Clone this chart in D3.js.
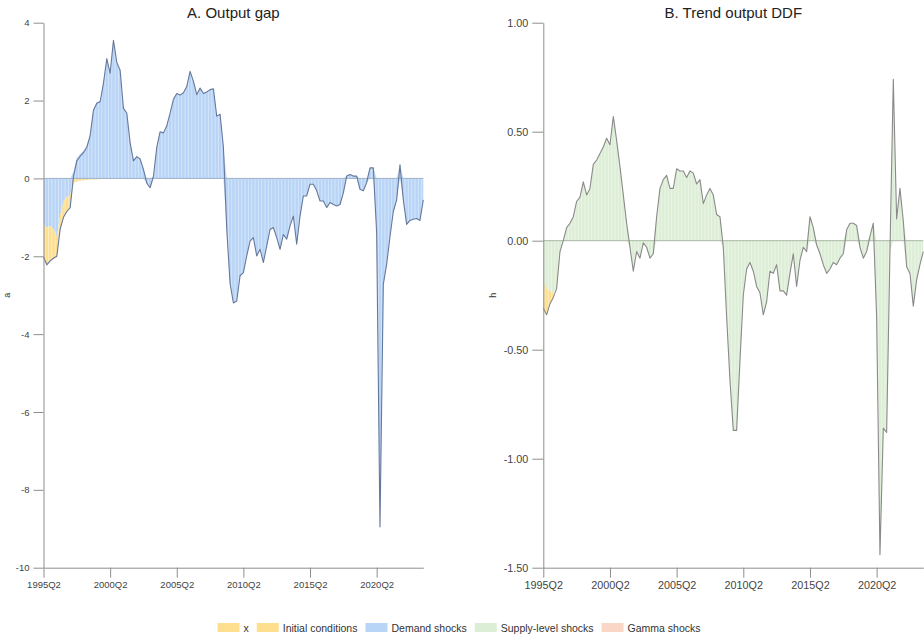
<!DOCTYPE html>
<html>
<head>
<meta charset="utf-8">
<script src="https://cdn.jsdelivr.net/npm/d3@7"></script>
<style>
  body { margin: 0; background: #fff; }
  svg { display: block; }
  text { font-family: "Liberation Sans", Arial, sans-serif; }
</style>
</head>
<body>
<svg id="chart" width="924" height="637"></svg>
<script>
// Quarterly index starts in 1995Q2
const startYear = 1995, startQuarter = 2;
const tickLabels = ["1995Q2", "2000Q2", "2005Q2", "2010Q2", "2015Q2", "2020Q2"];
const gapTicks = [-10, -8, -6, -4, -2, 0, 2, 4];
const ddfTicks = [-1.5, -1.0, -0.5, 0, 0.5, 1.0];

// Panel A: output gap decomposition (contributions)
const gapDemand = [
  -1.17,-1.27,-1.22,-1.30,-1.50,-0.95,-0.60,-0.47,-0.45,0.17,
  0.53,0.63,0.71,0.84,1.13,1.78,1.96,1.99,2.46,3.09,
  2.71,3.55,2.98,2.78,1.80,1.68,0.92,0.45,0.56,0.50,
  0.23,-0.12,-0.24,0.05,0.80,1.20,1.17,1.35,1.68,2.03,
  2.18,2.14,2.20,2.36,2.75,2.50,2.15,2.32,2.18,2.22,
  2.28,2.30,1.60,1.65,0.80,-1.30,-2.70,-3.20,-3.15,-2.50,
  -2.42,-1.99,-1.61,-1.52,-1.99,-1.82,-2.16,-1.74,-1.31,-1.26,
  -1.52,-1.82,-1.44,-1.56,-1.22,-0.97,-1.69,-0.97,-0.45,-0.45,
  -0.15,-0.15,-0.32,-0.58,-0.58,-0.75,-0.62,-0.67,-0.71,-0.67,
  -0.37,0.06,0.10,0.06,0.06,-0.28,-0.32,-0.11,0.27,0.27,
  -1.40,-8.95,-2.72,-2.20,-1.50,-0.85,-0.55,0.35,-0.55,-1.18,
  -1.08,-1.05,-1.03,-1.08,-0.55
];
const gapInitial = [
  -0.85,-0.95,-0.90,-0.75,-0.50,-0.35,-0.40,-0.38,-0.30,-0.12,
  -0.08,-0.06,-0.05,-0.04,-0.03,-0.03,-0.03,-0.02,-0.01,-0.01,
  -0.01,0,0,0,0,0,0,0,0,0,
  0,0,0,0,0,0,0,0,0,0,
  0,0,0,0,0,0,0,0,0,0,
  0,0,0,0,0,0,0,0,0,0,
  0,0,0,0,0,0,0,0,0,0,
  0,0,0,0,0,0,0,0,0,0,
  0,0,0,0,0,0,0,0,0,0,
  0,0,0,0,0,0,0,0,0,0,
  0,0,0,0,0,0,0,0,0,0,
  0,0,0,0,0
];

// Panel B: trend output DDF decomposition
const ddfSupply = [
  -0.18,-0.22,-0.23,-0.24,-0.22,-0.05,0.00,0.06,0.08,0.11,
  0.18,0.20,0.27,0.21,0.24,0.35,0.37,0.40,0.43,0.47,
  0.44,0.57,0.46,0.34,0.21,0.08,-0.03,-0.14,-0.05,-0.08,
  -0.01,-0.03,-0.08,-0.06,0.11,0.24,0.28,0.30,0.24,0.24,
  0.33,0.32,0.32,0.29,0.32,0.31,0.26,0.28,0.17,0.21,
  0.24,0.21,0.12,0.11,-0.03,-0.35,-0.64,-0.87,-0.87,-0.55,
  -0.25,-0.13,-0.10,-0.14,-0.21,-0.24,-0.34,-0.28,-0.14,-0.15,
  -0.11,-0.23,-0.23,-0.25,-0.15,-0.06,-0.21,-0.09,-0.03,-0.05,
  0.11,0.06,-0.02,-0.06,-0.11,-0.15,-0.13,-0.10,-0.11,-0.08,
  -0.06,0.05,0.08,0.08,0.07,-0.03,-0.08,-0.05,0.02,0.08,
  -0.35,-1.44,-0.86,-0.88,-0.05,0.74,0.10,0.24,0.09,-0.12,
  -0.15,-0.30,-0.18,-0.11,-0.05
];
const ddfInitial = [
  -0.13,-0.12,-0.06,-0.02,0,0,0,0,0,0,
  0,0,0,0,0,0,0,0,0,0,
  0,0,0,0,0,0,0,0,0,0,
  0,0,0,0,0,0,0,0,0,0,
  0,0,0,0,0,0,0,0,0,0,
  0,0,0,0,0,0,0,0,0,0,
  0,0,0,0,0,0,0,0,0,0,
  0,0,0,0,0,0,0,0,0,0,
  0,0,0,0,0,0,0,0,0,0,
  0,0,0,0,0,0,0,0,0,0,
  0,0,0,0,0,0,0,0,0,0,
  0,0,0,0,0
];

const legendItems = ["x", "Initial conditions", "Demand shocks", "Supply-level shocks", "Gamma shocks"];
const colors = {
  "x": "#fddf8f",
  "Initial conditions": "#fddf8f",
  "Demand shocks": "#b8d4f7",
  "Supply-level shocks": "#ddeed6",
  "Gamma shocks": "#f9d6c5"
};

function quarterLabel(i) {
  const k = startQuarter - 1 + i;
  return (startYear + Math.floor(k / 4)) + "Q" + (k % 4 + 1);
}

const svg = d3.select("#chart");
const plotTop = 22.7, plotBottom = 567.7;
const axisColor = "#8e8e8e";

function drawPanel(cfg) {
  const n = cfg.series[0].values.length;
  const x = d3.scaleLinear().domain([0, n - 1]).range([cfg.x0, cfg.x1]);
  const y = d3.scaleLinear().domain(cfg.yDomain).range([plotBottom, plotTop]);
  const g = svg.append("g");

  const rows = d3.range(n).map(i => {
    const r = { i };
    cfg.series.forEach(s => { r[s.name] = s.values[i]; });
    return r;
  });
  const stacked = d3.stack()
    .keys(cfg.series.map(s => s.name))
    .offset(d3.stackOffsetDiverging)(rows);

  const area = d3.area()
    .x(d => x(d.data.i))
    .y0(d => y(d[0]))
    .y1(d => y(d[1]));

  const clipId = "clip-" + cfg.id;
  const clip = g.append("clipPath").attr("id", clipId);
  stacked.forEach(layer => clip.append("path").attr("d", area(layer)));

  g.selectAll("path.layer").data(stacked).join("path")
    .attr("class", "layer")
    .attr("d", area)
    .attr("fill", d => colors[d.key]);

  // thin vertical stripes separating the quarterly bars
  g.append("g").attr("clip-path", `url(#${clipId})`)
    .selectAll("line").data(d3.range(n - 1)).join("line")
    .attr("x1", i => x(i + 0.5)).attr("x2", i => x(i + 0.5))
    .attr("y1", plotTop).attr("y2", plotBottom)
    .attr("stroke", "#fff").attr("stroke-width", 0.7).attr("stroke-opacity", 0.6);

  // zero reference line
  g.append("line")
    .attr("x1", cfg.x0).attr("x2", cfg.x1)
    .attr("y1", y(0)).attr("y2", y(0))
    .attr("stroke", cfg.zeroColor).attr("stroke-width", 1);

  // total of all contributions
  const totals = rows.map(r => ({ i: r.i, v: d3.sum(cfg.series, s => r[s.name]) }));
  g.append("path")
    .datum(totals)
    .attr("d", d3.line().x(d => x(d.i)).y(d => y(d.v)))
    .attr("fill", "none")
    .attr("stroke", cfg.lineColor)
    .attr("stroke-width", 1.1)
    .attr("stroke-linejoin", "round");

  // axes
  const yAxis = g.append("g")
    .attr("transform", `translate(${cfg.x0},0)`)
    .call(d3.axisLeft(y).tickValues(cfg.ticks).tickSize(cfg.tickLen).tickSizeOuter(0)
      .tickPadding(4).tickFormat(cfg.fmt));
  const xTickIdx = d3.range(n).filter(i => tickLabels.includes(quarterLabel(i)));
  const xAxis = g.append("g")
    .attr("transform", `translate(0,${plotBottom})`)
    .call(d3.axisBottom(x).tickValues(xTickIdx).tickSize(10).tickSizeOuter(0)
      .tickPadding(4).tickFormat(quarterLabel));
  [yAxis, xAxis].forEach(a => {
    a.select(".domain").attr("stroke", axisColor);
    a.selectAll(".tick line").attr("stroke", axisColor);
    a.selectAll(".tick text").attr("fill", "#444").attr("font-size", cfg.fontSize + "px")
      .attr("font-family", "'Liberation Sans', Arial, sans-serif");
  });

  // title and y label
  g.append("text")
    .attr("x", (cfg.x0 + cfg.x1) / 2).attr("y", 17.5)
    .attr("text-anchor", "middle").attr("font-size", "15px").attr("fill", "#222")
    .text(cfg.title);
  g.append("text")
    .attr("transform", `translate(${cfg.labelX},${(plotTop + plotBottom) / 2}) rotate(-90)`)
    .attr("text-anchor", "middle").attr("font-size", "9px").attr("fill", "#333")
    .text(cfg.yLabel);
}

drawPanel({
  id: "a", title: "A. Output gap", yLabel: "a", labelX: 10,
  x0: 43.5, x1: 423.3, yDomain: [-10, 4], ticks: gapTicks, tickLen: 10,
  fmt: v => String(v), fontSize: 9.5,
  series: [
    { name: "Demand shocks", values: gapDemand },
    { name: "Initial conditions", values: gapInitial }
  ],
  lineColor: "#66789a", zeroColor: "#9fb0c8"
});

drawPanel({
  id: "b", title: "B. Trend output DDF", yLabel: "h", labelX: 496,
  x0: 543.3, x1: 923.3, yDomain: [-1.5, 1], ticks: ddfTicks, tickLen: 11,
  fmt: v => v.toFixed(2), fontSize: 10.8,
  series: [
    { name: "Supply-level shocks", values: ddfSupply },
    { name: "Initial conditions", values: ddfInitial }
  ],
  lineColor: "#8a8a8a", zeroColor: "#a9b7a4"
});

// legend
const legend = svg.append("g");
const swW = 22, swH = 9, textGap = 4, itemGap = 8;
let cx = 0;
legendItems.forEach(name => {
  const item = legend.append("g").attr("transform", `translate(${cx},0)`);
  item.append("rect").attr("x", 0).attr("y", -swH + 1).attr("width", swW).attr("height", swH)
    .attr("fill", colors[name]);
  const t = item.append("text").attr("x", swW + textGap).attr("y", 0.5)
    .attr("font-size", "10.5px").attr("fill", "#333").text(name);
  cx += swW + textGap + t.node().getComputedTextLength() + itemGap;
});
const legendWidth = cx - itemGap;
legend.attr("transform", `translate(${459 - legendWidth / 2},631)`);
</script>
</body>
</html>
